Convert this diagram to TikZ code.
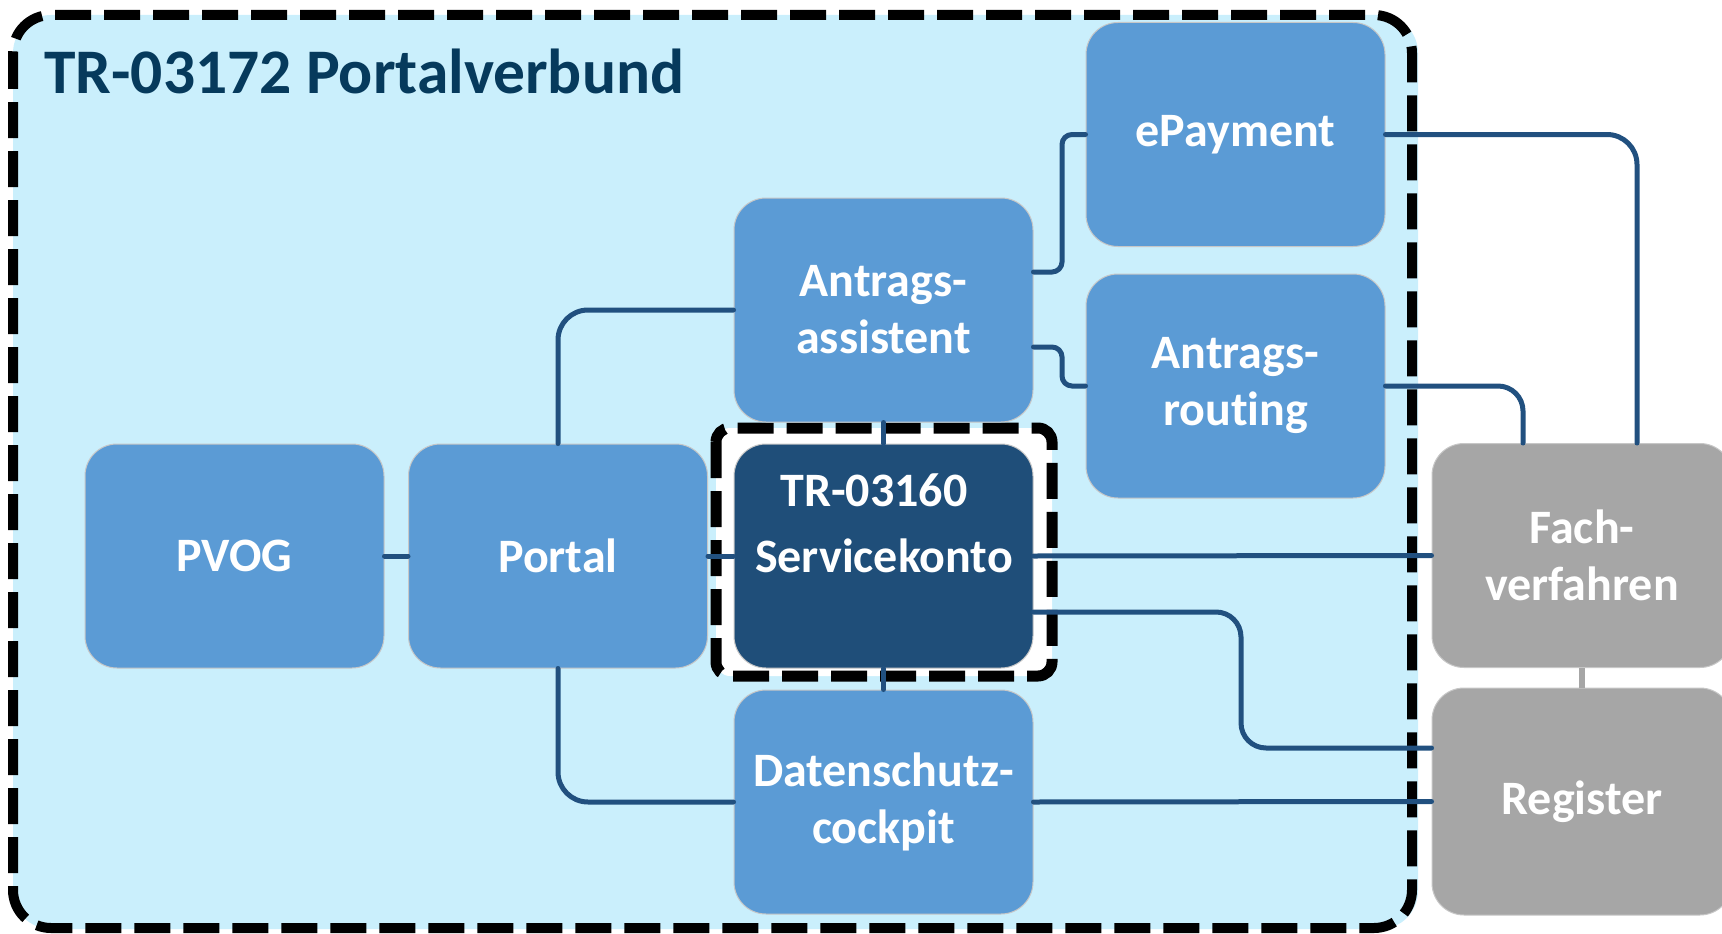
\documentclass[tikz,border=0pt]{standalone}
\usepackage{fontspec}
\setmainfont[Ligatures={NoCommon}]{Carlito}
\usetikzlibrary{calc}
\definecolor{lightbg}{HTML}{CAEFFC}
\definecolor{boxblue}{HTML}{5B9BD5}
\definecolor{darkblue}{HTML}{1F4E79}
\definecolor{linkblue}{HTML}{21507F}
\definecolor{titleblue}{HTML}{063A5C}
\definecolor{greybox}{HTML}{A6A6A6}
\tikzset{
  box/.style={rectangle, rounded corners=32pt, minimum width=299pt, minimum height=224pt,
    inner sep=0pt, fill=boxblue, draw=black!22, line width=1pt, text=white,
    font=\bfseries\fontsize{48}{57}\selectfont, align=center},
  darkbox/.style={box, fill=darkblue},
  greyb/.style={box, fill=greybox},
  lbl/.style={inner sep=0pt, text=white, font=\bfseries\fontsize{48}{57}\selectfont},
  frame/.style={draw=black, line width=10pt, dash pattern=on 36pt off 13pt},
  conn/.style={draw=linkblue, line width=5pt, line cap=round},
  greyconn/.style={draw=greybox, line width=6pt}
}
\begin{document}
\begin{tikzpicture}[x=1pt,y=-1pt]
\useasboundingbox (0,0) rectangle (1722,934);
% outer region
\fill[lightbg, rounded corners=38pt] (13,15) rectangle (1418,929);
\draw[frame, rounded corners=38pt] (13,15) rectangle (1412,928);
\node[anchor=base west, inner sep=0pt, text=titleblue, font=\bfseries\fontsize{63.5}{70}\selectfont] (title) at (44,93) {TR-03172 Portalverbund};
% inner frame
\draw[frame, line width=11pt, fill=white, rounded corners=14pt] (716,428) rectangle (1052,676);
% nodes
\node[box] (pvog) at (234.5,556) {PVOG};
\node[box] (portal) at (558,556) {Portal};
\node[darkbox] (sk) at (883.5,556) {};
\node[lbl] (skA) at (874,490) {TR-03160};
\node[lbl] (skB) at (884,556) {Servicekonto};
\node[box] (aa) at (883.5,310) {Antrags-\\assistent};
\node[box] (dc) at (883.5,802) {Datenschutz-\\cockpit};
\node[box] (ep) at (1235.5,134.5) {ePayment};
\node[box] (ar) at (1235.5,386) {Antrags-\\routing};
\node[greyb, minimum width=300pt] (fv) at (1582,555.5) {Fach-\\verfahren};
\node[greyb, minimum width=300pt, minimum height=227pt] (rg) at (1582,801.5) {Register};
% connectors
\draw[conn] (pvog.east) -- (portal.west);
\draw[conn] (portal.east) -- (sk.west);
\draw[conn, rounded corners=30pt] (portal.north) |- (aa.west);
\draw[conn, rounded corners=30pt] (portal.south) |- (dc.west);
\draw[conn] (aa.south) -- (sk.north);
\draw[conn] (sk.south) -- (dc.north);
\draw[conn, rounded corners=10pt] (aa.east |- 0,272) -- (1062,272) |- (ep.west);
\draw[conn, rounded corners=10pt] (aa.east |- 0,347) -- (1062,347) |- (ar.west);
\draw[conn, rounded corners=30pt] (ep.east) -| ($(fv.north)+(55,0)$);
\draw[conn, rounded corners=25pt] (ar.east) -| ($(fv.north)+(-59,0)$);
\draw[conn] (sk.east) -- (fv.west);
\draw[conn, rounded corners=25pt] (sk.east |- 0,612) -- (1241,612) -- (1241,748) -- (rg.west |- 0,748);
\draw[conn] (dc.east) -- (rg.west);
\draw[greyconn] (fv.south) -- (rg.north);
\end{tikzpicture}
\end{document}
